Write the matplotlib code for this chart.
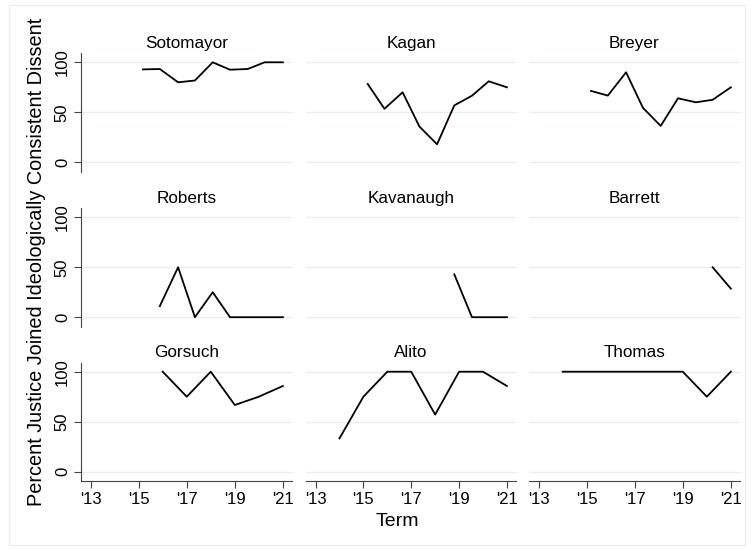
import matplotlib
matplotlib.use("Agg")
import matplotlib.pyplot as plt
from matplotlib.patches import Rectangle

plt.rcParams['font.family'] = ['Liberation Sans', 'DejaVu Sans']

# Data
justices = ["Sotomayor", "Kagan", "Breyer",
            "Roberts", "Kavanaugh", "Barrett",
            "Gorsuch", "Alito", "Thomas"]

term_top = [2015.18, 2015.88, 2016.64, 2017.34, 2018.08, 2018.80, 2019.54, 2020.24, 2021.0]

sotomayor_x = term_top
sotomayor_y = [92.9, 93.3, 80.0, 81.8, 100.0, 92.6, 93.3, 100.0, 100.0]
kagan_x = term_top
kagan_y = [78.3, 53.5, 70.0, 35.8, 18.0, 56.9, 66.6, 81.0, 75.0]
breyer_x = term_top
breyer_y = [71.4, 66.7, 90.0, 54.5, 36.4, 64.0, 60.0, 62.5, 75.0]
roberts_x = term_top[1:]
roberts_y = [11.1, 50.0, 0.0, 25.0, 0.0, 0.0, 0.0, 0.0]
kavanaugh_x = term_top[5:]
kavanaugh_y = [42.9, 0.0, 0.0, 0.0]
barrett_x = term_top[7:]
barrett_y = [50.0, 28.6]
gorsuch_x = [2016, 2017, 2018, 2019, 2020, 2021]
gorsuch_y = [100.0, 75.0, 100.0, 66.7, 75.0, 85.7]
alito_x = [2014, 2015, 2016, 2017, 2018, 2019, 2020, 2021]
alito_y = [33.3, 75.0, 100.0, 100.0, 57.1, 100.0, 100.0, 85.7]
thomas_x = [2014, 2015, 2016, 2017, 2018, 2019, 2020, 2021]
thomas_y = [100.0, 100.0, 100.0, 100.0, 100.0, 100.0, 75.0, 100.0]

series = {
    "Sotomayor": (sotomayor_x, sotomayor_y),
    "Kagan": (kagan_x, kagan_y),
    "Breyer": (breyer_x, breyer_y),
    "Roberts": (roberts_x, roberts_y),
    "Kavanaugh": (kavanaugh_x, kavanaugh_y),
    "Barrett": (barrett_x, barrett_y),
    "Gorsuch": (gorsuch_x, gorsuch_y),
    "Alito": (alito_x, alito_y),
    "Thomas": (thomas_x, thomas_y),
}

xticks = [2013, 2015, 2017, 2019, 2021]
xticklabels = ["'13", "'15", "'17", "'19", "'21"]
yticks = [0, 50, 100]

W, H = 751, 550
fig = plt.figure(figsize=(W / 100, H / 100), dpi=100)
fig.patch.set_facecolor("white")

# faint outer frame
fig.patches.append(Rectangle((9 / W, 1 - 545 / H), (745 - 9) / W, (545 - 5) / H,
                             transform=fig.transFigure, fill=False,
                             edgecolor="#EBEBEB", linewidth=0.8))

cols = [(81, 292), (306, 516), (529, 740)]
rows = [(53.3, 171.7), (208.3, 326.6), (362.7, 481.1)]
grid_color = "#E6EEF0"

for i, name in enumerate(justices):
    r, c = divmod(i, 3)
    x0, x1 = cols[c]
    y0, y1 = rows[r]
    ax = fig.add_axes([x0 / W, 1 - y1 / H, (x1 - x0) / W, (y1 - y0) / H])
    ax.set_xlim(2012.6, 2021.38)
    ax.set_ylim(-9.4, 109)
    for yv in yticks:
        ax.axhline(yv, color=grid_color, linewidth=1.0, zorder=0)
    xs, ys = series[name]
    ax.plot(xs, ys, color="black", linewidth=1.3, zorder=3)
    ax.set_title(name, fontsize=12.3, pad=4)
    for s in ["top", "right"]:
        ax.spines[s].set_visible(False)
    ax.spines["left"].set_color("#444444")
    ax.spines["bottom"].set_color("#444444")
    ax.set_xticks(xticks)
    ax.set_yticks(yticks)
    if c == 0:
        ax.set_yticklabels([str(v) for v in yticks], rotation=90, va="center", fontsize=12)
        ax.tick_params(axis="y", length=5, width=0.8, color="#444444", pad=3)
    else:
        ax.spines["left"].set_visible(False)
        ax.tick_params(axis="y", left=False, labelleft=False)
    if r == 2:
        ax.set_xticklabels(xticklabels, fontsize=12)
        ax.tick_params(axis="x", length=5, width=0.8, color="#444444", pad=3)
    else:
        ax.spines["bottom"].set_visible(False)
        ax.tick_params(axis="x", bottom=False, labelbottom=False)

fig.text(37 / W, 1 - 262 / H, "Percent Justice Joined Ideologically Consistent Dissent",
         rotation=90, ha="center", va="center", fontsize=14.3)
fig.text(397 / W, 1 - 522 / H, "Term", ha="center", va="center", fontsize=14)

fig.savefig("out.png", dpi=100, facecolor="white")
